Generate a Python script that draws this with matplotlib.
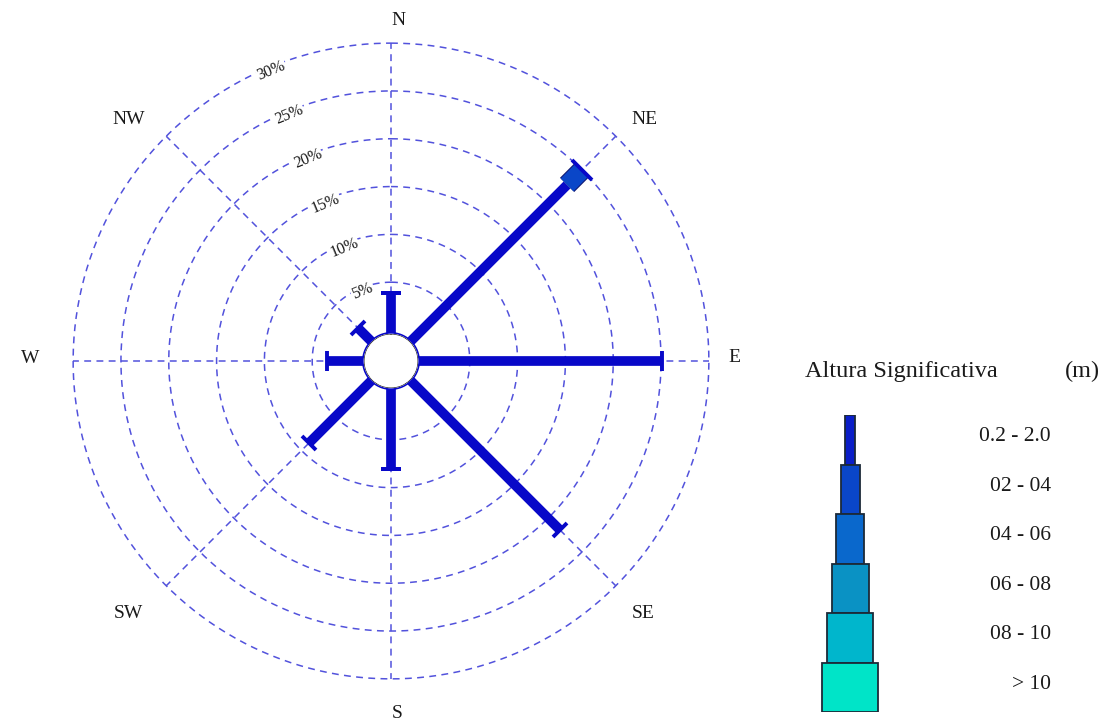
import numpy as np
import matplotlib
matplotlib.use('Agg')
import matplotlib.pyplot as plt
import matplotlib.patheffects as pe
from matplotlib.markers import MarkerStyle
from matplotlib.transforms import Affine2D

plt.rcParams['font.family'] = ['Liberation Serif', 'DejaVu Serif']

# wave height rose: frequency (%) per direction and height class
directions = ['N', 'NE', 'E', 'SE', 'S', 'SW', 'W', 'NW']
angles_deg = [0, 45, 90, 135, 180, 225, 270, 315]
freq_02_20 = [3.9, 22.8, 25.1, 21.7, 8.1, 8.9, 3.5, 1.6]
freq_02_04 = [0, 2.2, 0, 0, 0, 0, 0, 0]
rings = [5, 10, 15, 20, 25, 30]

classes = ['0.2 - 2.0', '02 - 04', '04 - 06', '06 - 08', '08 - 10', '> 10']
class_colors = ['#0a1ec8', '#0a46c8', '#0a68cc', '#0a92c4', '#00b6cc', '#00e4c8']
class_widths = [10, 19, 28, 37, 46, 56]

# pixel offsets of direction names from the outer ring
name_offsets = [(7, 23), (29, 17), (26, 3), (27, -28),
                (6, -35), (-38, -28), (-43, 3), (-38, 17)]

bar_col = '#0808c8'
grid_col = '#5252dc'
txt_col = '#1a1a1a'

fig = plt.figure(figsize=(11.04, 7.22), dpi=100)

# polar axes, radius 337 px centred at (391, 361)
W, H = 1104, 722
R = 337
ax = fig.add_axes([(391 - R) / W, (H - 361 - R) / H, 2 * R / W, 2 * R / H],
                  projection='polar')
ax.set_theta_zero_location('N')
ax.set_theta_direction(-1)
rmax = 32
r0 = -0.3   # edge of the centre hole
ax.set_ylim(r0 - 0.1, rmax)
ax.set_rorigin(-3.24)
ax.grid(False)
ax.set_xticks([])
ax.set_yticks([])
ax.spines['polar'].set_visible(False)
ax.patch.set_alpha(0)

dash = (0, (4.5, 3.5))
th = np.linspace(0, 2 * np.pi, 400)
for r in rings:
    ax.plot(th, np.full_like(th, r), color=grid_col, lw=1.1, ls=dash, zorder=1)
for a in angles_deg:
    t = np.deg2rad(a)
    ax.plot([t, t], [0, rings[-1]], color=grid_col, lw=1.1, ls=dash, zorder=1)

# ring labels along NNW
lab_t = np.deg2rad(337.6)
for r in rings:
    ax.text(lab_t, r - 0.4, f'{r}%', rotation=22.5, rotation_mode='anchor',
            ha='center', va='center', fontsize=11.5, color=txt_col, zorder=2,
            bbox=dict(boxstyle='square,pad=0.05', fc='white', ec='none'))

# direction bars
bw = 7
for a, f1, f2 in zip(angles_deg, freq_02_20, freq_02_04):
    t = np.deg2rad(a)
    ax.plot([t, t], [r0, f1], color=bar_col, lw=bw, solid_capstyle='butt', zorder=3)
    end = f1
    cap = 14
    if f2 > 0:
        ax.plot([t, t], [f1, f1 + f2], color=class_colors[1], lw=13,
                solid_capstyle='butt', zorder=4,
                path_effects=[pe.Stroke(linewidth=14.5, foreground='#101870'),
                              pe.Normal()])
        end = f1 + f2
        cap = 21
    m = MarkerStyle('_', transform=Affine2D().rotate_deg(-a))
    ax.plot([t], [end], marker=m, ms=cap, mew=2.8, color=bar_col, zorder=5)

# centre hole
ax.fill(th, np.full_like(th, r0), facecolor='white', edgecolor=bar_col, lw=1.2,
        zorder=6)

for a, d, off in zip(angles_deg, directions, name_offsets):
    ax.annotate(d, (np.deg2rad(a), rings[-1]), xytext=off,
                textcoords='offset pixels', ha='center', va='center',
                fontsize=14, color=txt_col, annotation_clip=False)

# legend of height classes
lb, lt = 712, 415
leg = fig.add_axes([800 / W, (H - lb) / H, 304 / W, (lb - lt) / H])
leg.set_xlim(0, 304)
leg.set_ylim(0, len(classes))
leg.axis('off')
n = len(classes)
bottoms = [n - 1 - i for i in range(n)]
leg.bar(50, 1, width=class_widths, bottom=bottoms, color=class_colors,
        edgecolor='#1c2a38', linewidth=1.3, align='center')
for b, c in zip(bottoms, classes):
    leg.text(251, b + 0.56, c, ha='right', va='center', fontsize=15.5, color=txt_col)
leg.text(5, 6.87, 'Altura Significativa', ha='left', va='center', fontsize=17.5,
         color=txt_col, clip_on=False)
leg.text(300, 6.87, '(m)', ha='right', va='center', fontsize=17.5,
         color=txt_col, clip_on=False)

fig.savefig('out.png', dpi=100)
